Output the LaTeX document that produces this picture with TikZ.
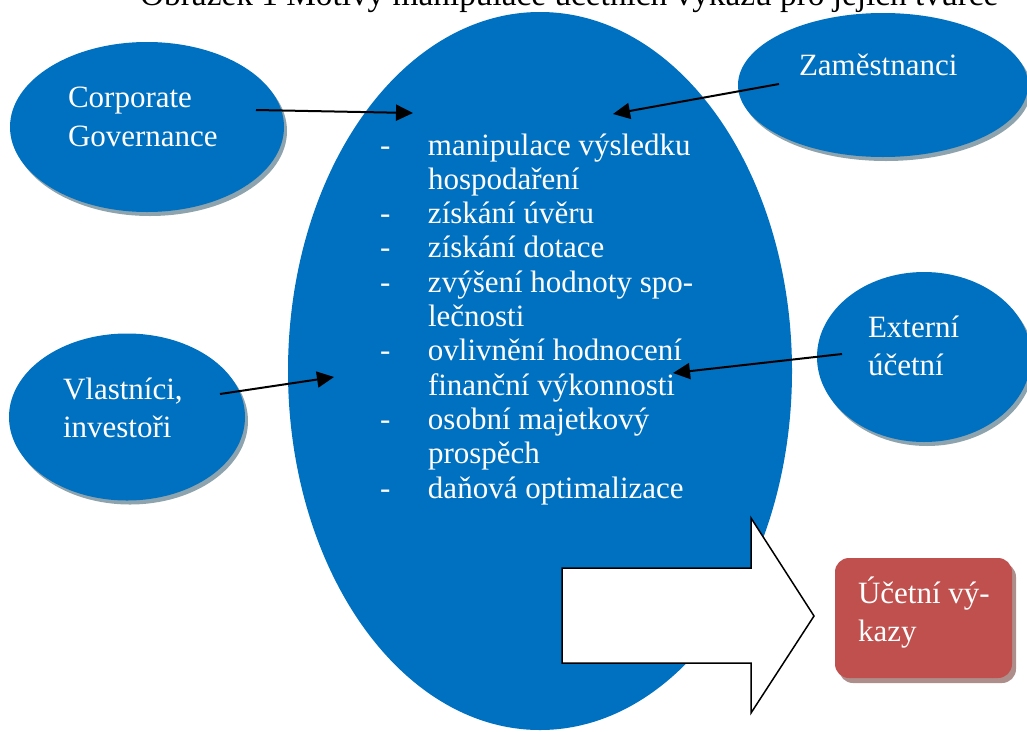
\documentclass[tikz,border=0pt]{standalone}
\usepackage{fontspec}
\setmainfont{Liberation Serif}
\usetikzlibrary{arrows.meta,shapes.geometric,shadows}

\definecolor{ovalblue}{HTML}{0070C0}
\definecolor{ovalshadow}{HTML}{8DA3AE}
\definecolor{boxred}{HTML}{C0504D}
\definecolor{boxshadow}{HTML}{AE8E8B}

\begin{document}
\begin{tikzpicture}[x=1pt,y=-1pt,
  oval/.style={ellipse, fill=ovalblue, draw=none, inner sep=0pt, outer sep=0pt},
  shadowed/.style={drop shadow={shadow xshift=3pt, shadow yshift=-4pt,
      fill=ovalshadow, opacity=1}},
  lbl/.style={text=white, anchor=base west, inner sep=0pt, outer sep=0pt,
      font=\fontsize{31}{38}\selectfont},
  conn/.style={line width=2pt, draw=black,
      -{Triangle[length=17pt,width=16pt]}},
  blockarrow/.style={fill=white, draw=black, line width=1.5pt, line join=miter}
]
\useasboundingbox (0,0) rectangle (1027,731);
\clip (0,0) rectangle (1027,731);

% caption line at the top edge
\node[anchor=base west, inner sep=0pt, font=\fontsize{33.3}{40}\selectfont] (caption)
  at (140,5) {Obrázek 1 Motivy manipulace účetních výkazů pro jejich tvůrce};

% central oval with the list of motives
\node[oval, minimum width=504pt, minimum height=718pt] (motives) at (540,371) {};

% surrounding actors
\node[oval, shadowed, minimum width=274pt, minimum height=170pt] (cg) at (147,127) {};
\node[oval, shadowed, minimum width=290pt, minimum height=144pt] (emp) at (883,85) {};
\node[oval, shadowed, minimum width=236pt, minimum height=167pt] (own) at (127,417) {};
\node[oval, shadowed, minimum width=214pt, minimum height=170pt] (ext) at (924,357) {};

% resulting statements
\node[rectangle, rounded corners=14pt, fill=boxred, minimum width=177pt, minimum height=120pt,
  inner sep=0pt, drop shadow={shadow xshift=4pt, shadow yshift=-5pt, fill=boxshadow, opacity=1}]
  (stmt) at (923.5,618) {};

% block arrow from the motives to the statements
\draw[blockarrow] (562,568) -- (751,568) -- (751,518) -- (814,616) -- (751,713)
  -- (751,663) -- (562,663) -- cycle;

% labels
\node[lbl] (cgtext) at (68,107) {\begin{tabular}[t]{@{}l@{}}Corporate\\[1pt]Governance\end{tabular}};
\node[lbl] (emptext) at (799,75) {Zaměstnanci};
\node[lbl] (owntext) at (63,399) {\begin{tabular}[t]{@{}l@{}}Vlastníci,\\[0pt]investoři\end{tabular}};
\node[lbl] (exttext) at (868,337) {\begin{tabular}[t]{@{}l@{}}Externí\\[0pt]účetní\end{tabular}};
\node[lbl] (stmttext) at (858,603) {\begin{tabular}[t]{@{}l@{}}Účetní vý-\\[0pt]kazy\end{tabular}};

\node[lbl, font=\fontsize{31}{34.3}\selectfont] (list) at (380,155) {%
  \begin{tabular}[t]{@{}p{48pt}@{}l@{}}
  - & manipulace výsledku\\
    & hospodaření\\
  - & získání úvěru\\
  - & získání dotace\\
  - & zvýšení hodnoty spo-\\
    & lečnosti\\
  - & ovlivnění hodnocení\\
    & finanční výkonnosti\\
  - & osobní majetkový\\
    & prospěch\\
  - & daňová optimalizace
  \end{tabular}};

% influence arrows
\coordinate (cgFrom) at (256,110);
\coordinate (cgTo) at (413,113);
\coordinate (empFrom) at (779,84);
\coordinate (empTo) at (613,114);
\coordinate (ownFrom) at (220,394);
\coordinate (ownTo) at (334,377);
\coordinate (extFrom) at (842,354);
\coordinate (extTo) at (673,373);
\draw[conn] (cgFrom) -- (cgTo);
\draw[conn] (empFrom) -- (empTo);
\draw[conn] (ownFrom) -- (ownTo);
\draw[conn] (extFrom) -- (extTo);
\end{tikzpicture}
\end{document}
